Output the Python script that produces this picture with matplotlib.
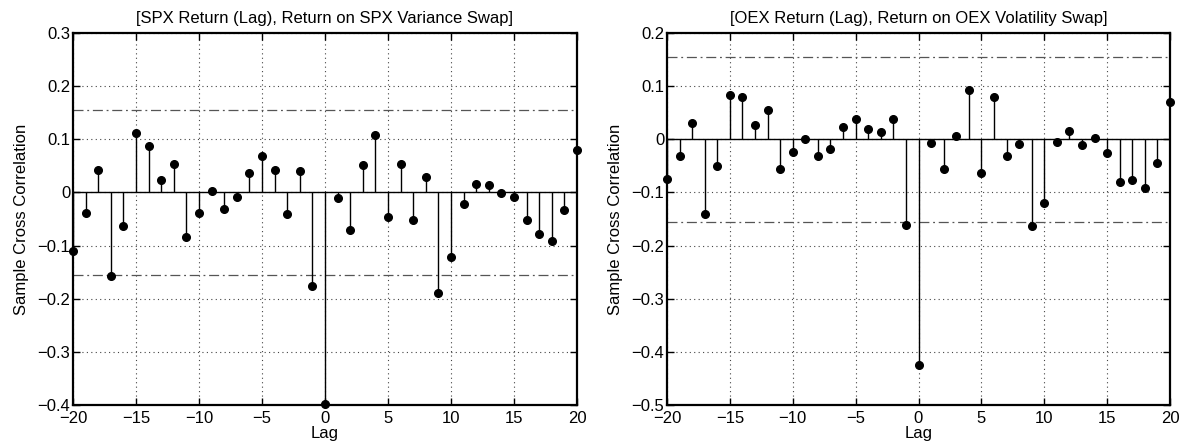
import numpy as np
import matplotlib
matplotlib.use("Agg")
import matplotlib.pyplot as plt

plt.rcParams['font.family'] = ['Liberation Sans', 'DejaVu Sans']

lags = list(range(-20, 21))

spx_xcorr = [-0.110, -0.038, 0.043, -0.157, -0.063, 0.112, 0.088, 0.023, 0.053, -0.083,
             -0.038, 0.003, -0.031, -0.008, 0.037, 0.069, 0.043, -0.040, 0.041, -0.176,
             -0.399, -0.010, -0.070, 0.051, 0.108, -0.047, 0.053, -0.051, 0.029, -0.189,
             -0.122, -0.022, 0.016, 0.014, -0.002, -0.009, -0.052, -0.078, -0.092, -0.033,
             0.080]

oex_xcorr = [-0.074, -0.031, 0.030, -0.140, -0.051, 0.083, 0.080, 0.026, 0.056, -0.055,
             -0.024, 0.000, -0.031, -0.018, 0.024, 0.038, 0.020, 0.014, 0.038, -0.162,
             -0.424, -0.007, -0.055, 0.006, 0.093, -0.063, 0.079, -0.031, -0.008, -0.164,
             -0.119, -0.006, 0.016, -0.010, 0.003, -0.026, -0.080, -0.077, -0.091, -0.044,
             0.071]

bound = 0.155

titles = ["[SPX Return (Lag), Return on SPX Variance Swap]",
          "[OEX Return (Lag), Return on OEX Volatility Swap]"]
ylims = [(-0.4, 0.3), (-0.5, 0.2)]
yticks = [np.round(np.arange(-0.4, 0.31, 0.1), 1), np.round(np.arange(-0.5, 0.21, 0.1), 1)]
xticks = list(range(-20, 21, 5))

fig = plt.figure(figsize=(11.85, 4.47), dpi=100)
axes = [fig.add_axes([73/1185, 42/447, 504/1185, 372/447]),
        fig.add_axes([667/1185, 42/447, 503/1185, 372/447])]

def fmt(v):
    if abs(v) < 1e-9:
        return "0"
    s = ("%.1f" % v)
    return s.replace("-", "\u2212")

FS = 12

for ax, data, title, yl, yt in zip(axes, [spx_xcorr, oex_xcorr], titles, ylims, yticks):
    ax.vlines(lags, 0, data, colors='black', linewidth=1.0, zorder=3)
    ax.plot(lags, data, 'o', color='black', markersize=5.5, zorder=4, clip_on=False)
    ax.axhline(0, color='black', linewidth=1.0, zorder=2)
    ax.axhline(bound, color='#555555', linestyle='-.', linewidth=0.9, dashes=(8, 3, 1.5, 3), zorder=2)
    ax.axhline(-bound, color='#555555', linestyle='-.', linewidth=0.9, dashes=(8, 3, 1.5, 3), zorder=2)
    ax.set_xlim(-20, 20)
    ax.set_ylim(*yl)
    ax.set_xticks(xticks)
    ax.set_xticklabels([str(t).replace("-", "\u2212") for t in xticks])
    ax.set_yticks(yt)
    ax.set_yticklabels([fmt(v) for v in yt])
    ax.grid(True, linestyle=(0, (1, 3)), color='#444444', linewidth=0.8)
    ax.set_axisbelow(True)
    ax.tick_params(direction='in', length=5, width=1, labelsize=FS, top=True, right=True)
    ax.tick_params(axis='x', pad=4)
    ax.tick_params(axis='y', pad=2)
    for sp in ax.spines.values():
        sp.set_linewidth(1.6)
    ax.set_title(title, fontsize=FS, pad=7)
    ax.set_xlabel("Lag", fontsize=FS, labelpad=0)
    ax.set_ylabel("Sample Cross Correlation", fontsize=FS, labelpad=6)

fig.savefig("out.png", dpi=100)
